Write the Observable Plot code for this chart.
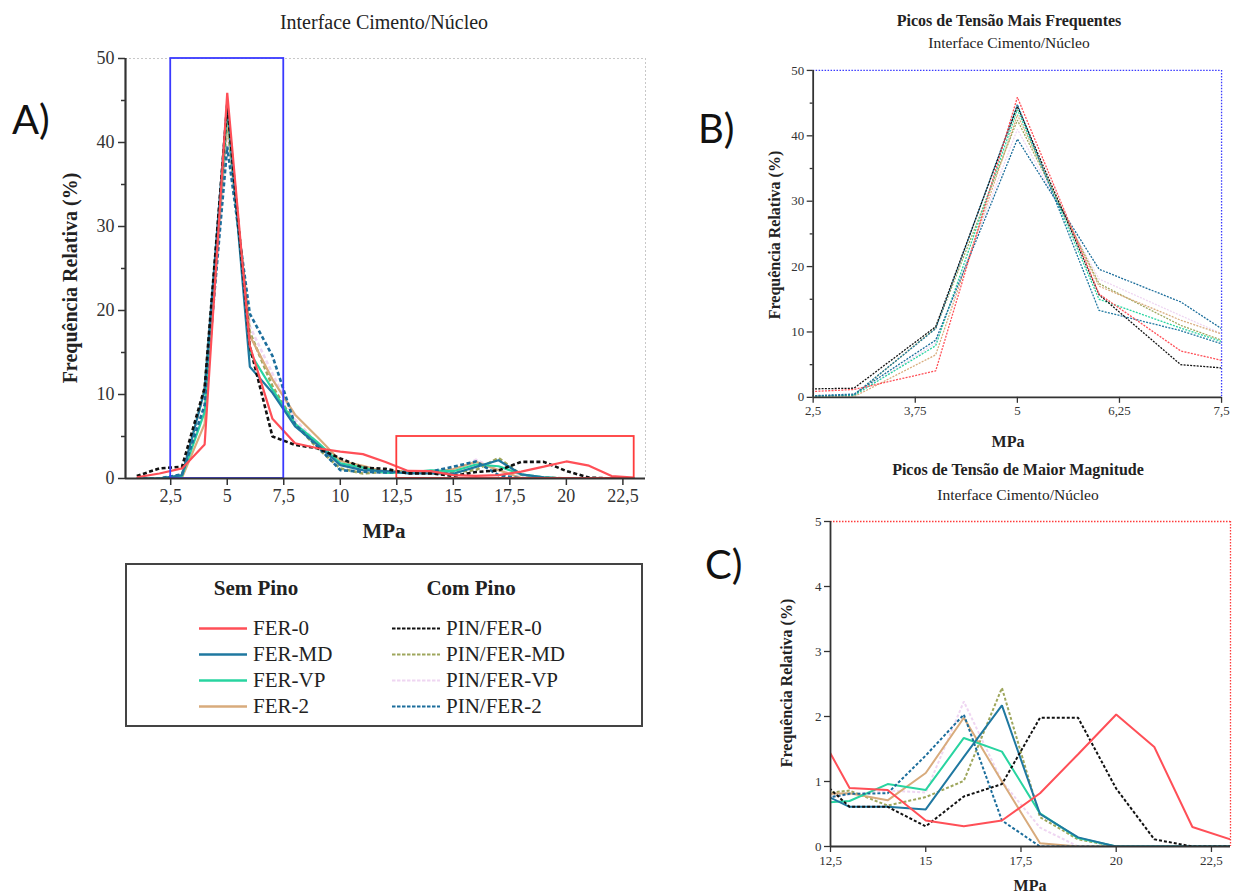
<!DOCTYPE html>
<html><head><meta charset="utf-8">
<script src="https://cdn.jsdelivr.net/npm/d3@7"></script>
<script src="https://cdn.jsdelivr.net/npm/@observablehq/plot@0.6"></script>
<style>
body{margin:0;background:#fff;}
#root{position:relative;width:1233px;height:893px;overflow:hidden;font-family:"Liberation Serif","Times New Roman",serif;color:#222;}
.abs{position:absolute;white-space:nowrap;transform:translate(-50%,-50%);}
.rot{transform:translate(-50%,-50%) rotate(-90deg);}
.b{font-weight:bold;}
.panel{position:absolute;}
.panel svg{overflow:visible;}
.plabel{position:absolute;font-family:Lato,"Open Sans",sans-serif;font-size:40px;color:#111;}
#legend{position:absolute;left:125px;top:563px;width:514px;height:160px;border:2px solid #444;}
#legend .h{position:absolute;font-weight:bold;font-size:21px;transform:translate(-50%,-50%);}
#legend .it{position:absolute;font-size:21px;display:flex;align-items:center;transform:translateY(-50%);}
#legend svg{margin-right:6px;}
</style></head><body><div id="root"></div>
<script>
// ---- data (x = MPa, y = frequência relativa %) ----
const mpa = [1,2,3,4,5,6,7,8,9,10,11,12,13,14,15,16,17,18,19,20,21,22,23];
const fer0     = [0.15,0.6,1.2,4.05,45.9,15.8,7.1,4.2,3.6,3.2,2.9,1.96,0.9,0.87,0.40,0.31,0.40,0.82,1.42,2.03,1.53,0.30,0.11];
const ferMD    = [0,0,0.4,10.5,44.8,13.3,10.2,6.2,4.0,1.6,1.0,0.89,0.61,0.61,0.57,1.38,2.17,0.50,0.14,0,0,0,0];
const ferVP    = [0,0,0.3,7.9,44.0,15.0,10.6,6.5,4.3,1.8,1.3,0.66,0.70,0.96,0.87,1.67,1.46,0.51,0.13,0,0,0,0];
const fer2     = [0,0,0.1,6.5,43.2,17.0,11.8,7.6,4.9,2.1,1.5,0.8,0.82,0.71,1.13,1.98,1.0,0.05,0,0,0,0,0];
const pinFer0  = [0.3,1.2,1.4,10.8,44.5,15.7,5.0,4.0,3.6,2.4,1.3,1.15,0.61,0.61,0.31,0.77,0.96,1.98,1.98,0.89,0.11,0,0];
const pinFerMD = [0,0,0.3,10.6,42.4,17.4,11.0,6.5,3.6,1.2,0.6,0.8,0.86,0.63,0.76,1.01,2.44,0.45,0.11,0,0,0,0];
const pinFerVP = [0,0,0.2,8.3,41.0,18.1,12.5,7.0,4.2,1.7,0.9,0.72,0.8,0.86,0.83,2.23,1.0,0.29,0,0,0,0,0];
const pinFer2  = [0,0,0.5,8.75,39.5,19.6,14.6,6.4,3.8,1.0,0.8,0.71,0.81,0.82,1.4,2.03,0.40,0,0,0,0,0,0];

const seriesNames = ["FER-0","FER-MD","FER-VP","FER-2","PIN/FER-0","PIN/FER-MD","PIN/FER-VP","PIN/FER-2"];
const seriesValues = [fer0, ferMD, ferVP, fer2, pinFer0, pinFerMD, pinFerVP, pinFer2];
const semPino = ["FER-0","FER-MD","FER-VP","FER-2"];
const comPino = ["PIN/FER-0","PIN/FER-MD","PIN/FER-VP","PIN/FER-2"];

// ticks
const xTicksA = [2.5,5,7.5,10,12.5,15,17.5,20,22.5];
const yTicksA = [0,10,20,30,40,50];
const yMinorA = [5,15,25,35,45];
const xTicksB = [2.5,3.75,5,6.25,7.5];
const xTicksC = [12.5,15,17.5,20,22.5];
const yTicksC = [0,1,2,3,4,5];
// highlighted regions
const boxFrequent = {x1:2.5, x2:7.5, y1:0, y2:50};
const boxMagnitude = {x1:12.5, x2:23, y1:0, y2:5};
const domainA = [0.5, 23.5];

// ---- styles ----
const colors = {"FER-0":"#ff4f57","FER-MD":"#1f78a0","FER-VP":"#28d4a0","FER-2":"#d8ab7c",
  "PIN/FER-0":"#111111","PIN/FER-MD":"#9ea65c","PIN/FER-VP":"#efd6f2","PIN/FER-2":"#1b6d9b"};
const dashed = s => s.startsWith("PIN");
const drawOrder = ["PIN/FER-VP","PIN/FER-MD","FER-2","FER-VP","PIN/FER-2","FER-MD","PIN/FER-0","FER-0"];

const rows = seriesNames.flatMap((s,i) => mpa.map((x,j) => ({series:s, x, y:seriesValues[i][j]})));
const fmt = d => String(d).replace(".", ",");

function lines(opts){
  return drawOrder.map(s => {
    const o = opts(s);
    const spec = {x:"x", y:"y", stroke: colors[s], strokeWidth: o.w, strokeLinecap: "butt", strokeLinejoin: "miter", clip: true};
    if (o.dash) spec.strokeDasharray = o.dash;
    return Plot.line(rows.filter(d => d.series === s), spec);
  });
}

const root = document.getElementById("root");
function place(el, left, top){ const d=document.createElement("div"); d.className="panel"; d.style.left=left+"px"; d.style.top=top+"px"; d.appendChild(el); root.appendChild(d); }
function txt(t, x, y, size, cls=""){ const d=document.createElement("div"); d.className="abs "+cls; d.style.left=x+"px"; d.style.top=y+"px"; d.style.fontSize=size+"px"; d.textContent=t; root.appendChild(d); }

// ---- Panel A ----
const optsA = s => ({w: dashed(s) ? 2.6 : 2.2, dash: dashed(s) ? "4,2.5" : null});
const A = Plot.plot({
  width:625, height:468, marginLeft:85, marginTop:18, marginRight:20, marginBottom:30,
  style:{fontFamily:"Liberation Serif, serif", fontSize:"18px", color:"#333", background:"transparent"},
  x:{domain:domainA}, y:{domain:[0,50]},
  marks:[
    Plot.ruleY([50], {stroke:"#c8c8c8", strokeDasharray:"2,2"}),
    Plot.ruleX([domainA[1]], {stroke:"#c8c8c8", strokeDasharray:"2,2"}),
    ...lines(optsA),
    Plot.rect([boxFrequent], {x1:"x1",x2:"x2",y1:"y1",y2:"y2", fill:"none", stroke:"#3a3aff", strokeWidth:1.8}),
    Plot.rect([boxMagnitude], {x1:"x1",x2:"x2",y1:"y1",y2:"y2", fill:"none", stroke:"#ff3b3b", strokeWidth:1.8}),
    Plot.axisY(yTicksA, {tickSize:7, tickPadding:4, tickFormat:fmt, strokeWidth:1.5, label:null}),
    Plot.axisY(yMinorA, {tickSize:4, tickFormat:()=>"", strokeWidth:1.5, label:null}),
    Plot.axisX(xTicksA, {tickSize:7, tickPadding:4, tickFormat:fmt, strokeWidth:1.5, label:null}),
    Plot.ruleX([domainA[0]], {stroke:"#333", strokeWidth:2.2}),
    Plot.ruleY([0], {stroke:"#333", strokeWidth:2.2})
  ]
});
place(A, 40, 40);
txt("Interface Cimento/Núcleo", 384, 22, 20);
txt("Frequência Relativa (%)", 70, 278, 20, "rot b");
txt("MPa", 384, 531, 21, "b");
const la = document.createElement("div"); la.className="plabel"; la.style.left="12px"; la.style.top="95px"; la.textContent="A)"; root.appendChild(la);

// ---- Panel B ----
const optsB = s => ({w: 1.3, dash: "2,1.3"});
const B = Plot.plot({
  width:476, height:369, marginLeft:53, marginTop:10, marginRight:12, marginBottom:30,
  style:{fontFamily:"Liberation Serif, serif", fontSize:"13px", color:"#333", background:"transparent"},
  x:{domain:[2.5,7.5]}, y:{domain:[0,50]},
  marks:[
    Plot.ruleY([50], {stroke:"#3a3aff", strokeDasharray:"1.5,1.5", strokeWidth:1.3}),
    Plot.ruleX([7.5], {stroke:"#3a3aff", strokeDasharray:"1.5,1.5", strokeWidth:1.3}),
    ...lines(optsB),
    Plot.axisY(yTicksA, {tickSize:6, tickPadding:3, tickFormat:fmt, strokeWidth:1.3, label:null}),
    Plot.axisY(yMinorA, {tickSize:3, tickFormat:()=>"", strokeWidth:1.3, label:null}),
    Plot.axisX(xTicksB, {tickSize:6, tickPadding:3, tickFormat:fmt, strokeWidth:1.3, label:null}),
    Plot.ruleX([2.5], {stroke:"#333", strokeWidth:1.8}),
    Plot.ruleY([0], {stroke:"#333", strokeWidth:1.8})
  ]
});
place(B, 760, 60);
txt("Picos de Tensão Mais Frequentes", 1009, 21, 16, "b");
txt("Interface Cimento/Núcleo", 1009, 43, 15.5);
txt("Frequência Relativa (%)", 775, 235, 16, "rot b");
txt("MPa", 1008, 442, 16, "b");
const lb = document.createElement("div"); lb.className="plabel"; lb.style.left="698px"; lb.style.top="104px"; lb.textContent="B)"; root.appendChild(lb);

// ---- Panel C ----
const optsC = s => ({w: 2, dash: dashed(s) ? "3,2" : null});
const C = Plot.plot({
  width:453, height:383, marginLeft:50, marginTop:11, marginRight:3, marginBottom:47,
  style:{fontFamily:"Liberation Serif, serif", fontSize:"13px", color:"#333", background:"transparent"},
  x:{domain:[12.5,23]}, y:{domain:[0,5]},
  marks:[
    Plot.ruleY([5], {stroke:"#ff3b3b", strokeDasharray:"1.5,1.5", strokeWidth:1.3}),
    Plot.ruleX([23], {stroke:"#ff3b3b", strokeDasharray:"1.5,1.5", strokeWidth:1.3}),
    ...lines(optsC),
    Plot.axisY(yTicksC, {tickSize:6, tickPadding:3, tickFormat:fmt, strokeWidth:1.3, label:null}),
    Plot.axisX(xTicksC, {tickSize:6, tickPadding:3, tickFormat:fmt, strokeWidth:1.3, label:null}),
    Plot.ruleX([12.5], {stroke:"#333", strokeWidth:1.8}),
    Plot.ruleY([0], {stroke:"#333", strokeWidth:1.8})
  ]
});
place(C, 780, 510);
txt("Picos de Tensão de Maior Magnitude", 1018, 470, 16, "b");
txt("Interface Cimento/Núcleo", 1018, 495, 15.5);
txt("Frequência Relativa (%)", 787, 683, 16, "rot b");
txt("MPa", 1030, 886, 16, "b");
const lc = document.createElement("div"); lc.className="plabel"; lc.style.left="705px"; lc.style.top="540px"; lc.textContent="C)"; root.appendChild(lc);

// ---- Legend ----
const leg = document.createElement("div"); leg.id="legend"; root.appendChild(leg);
function head(t, x){ const d=document.createElement("div"); d.className="h"; d.style.left=x+"px"; d.style.top="23px"; d.textContent=t; leg.appendChild(d); }
head("Sem Pino", 129); head("Com Pino", 344);
function item(s, x, y){
  const d=document.createElement("div"); d.className="it"; d.style.left=x+"px"; d.style.top=y+"px";
  const ns="http://www.w3.org/2000/svg";
  const sv=document.createElementNS(ns,"svg"); sv.setAttribute("width","48"); sv.setAttribute("height","6");
  const l=document.createElementNS(ns,"line"); l.setAttribute("x1","0"); l.setAttribute("x2","48"); l.setAttribute("y1","3"); l.setAttribute("y2","3");
  l.setAttribute("stroke", colors[s]); l.setAttribute("stroke-width", dashed(s) ? "2.2" : "2.6");
  if (dashed(s)) l.setAttribute("stroke-dasharray","3.5,1.5");
  sv.appendChild(l); d.appendChild(sv);
  const t=document.createElement("span"); t.textContent=s; d.appendChild(t); leg.appendChild(d);
}
const rowsY=[63,89,115,141];
semPino.forEach((s,i)=>item(s, 72, rowsY[i]));
comPino.forEach((s,i)=>item(s, 265, rowsY[i]));
</script></body></html>
